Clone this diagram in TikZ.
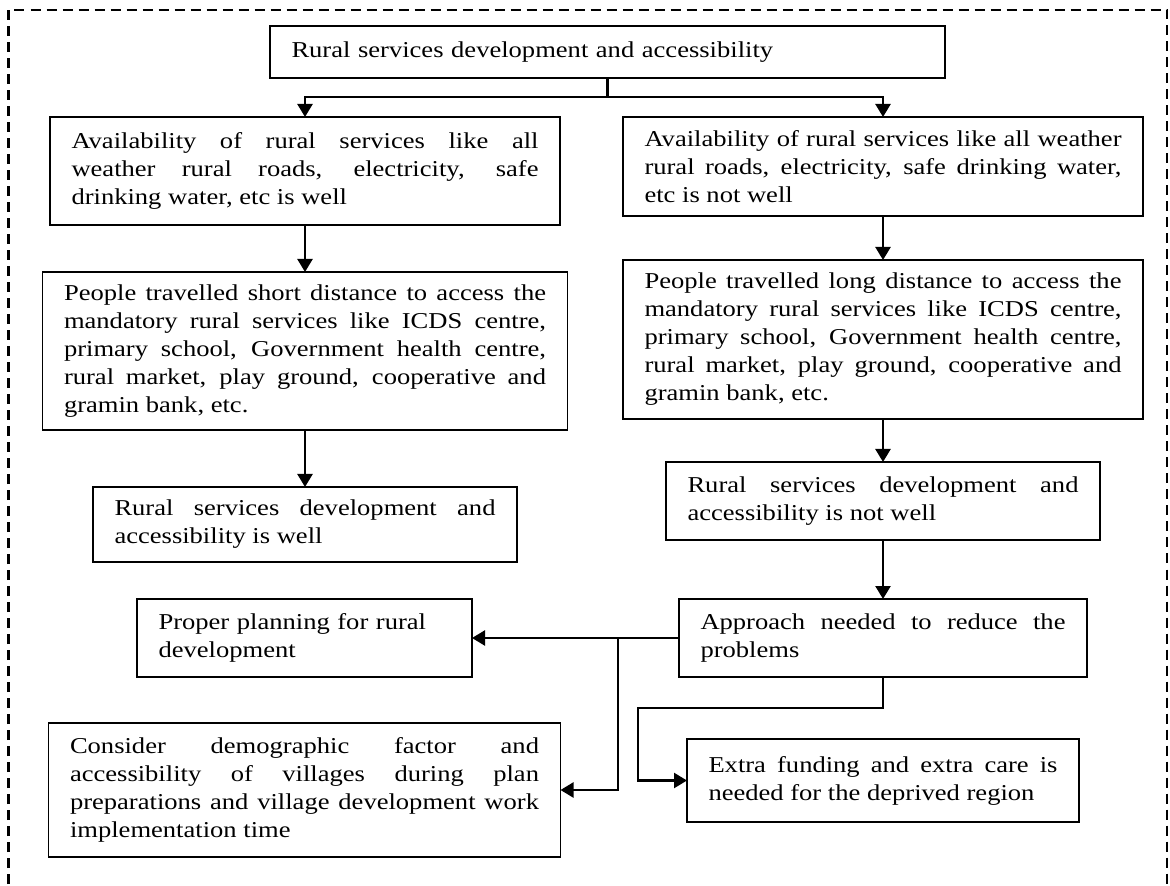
\documentclass[tikz,border=0pt]{standalone}
\usepackage{fontspec}
\setmainfont{Liberation Serif}[FakeStretch=1.17]
\usetikzlibrary{arrows.meta,positioning}

\begin{document}
\begin{tikzpicture}
    [x=1pt, y=1pt,
    node distance=20pt,
    block/.style = {draw, line width=0.9pt, inner xsep=10.75pt, inner ysep=3pt, outer sep=0pt, align=justify,
      font=\fontsize{11.35}{14}\selectfont},
    post/.style={-{Triangle[length=6.5pt,width=7.5pt]}, line width=1.2pt},
    pre/.style={{Triangle[length=6.5pt,width=7.5pt]}-, line width=1.2pt}]

    \useasboundingbox (0,0) rectangle (585,-443);
    % open frame round the chart
    \draw [dash pattern=on 5pt off 3pt, line width=1.2pt] (4.25,-450) -- (4.25,-5) -- (583.5,-5) -- (583.5,-450);

    \node [block, align=left, text width=316pt, minimum height=26pt] (Access) at (303.75,-26)
      {Rural services development and accessibility};
    \coordinate [below=9.5pt of Access] (Fork);

    % left column
    \node [block, text width=233.5pt, minimum height=54pt] (Available) [below=19.5pt of Access, xshift=-151.25pt]
      {Availability of rural services like all\linebreak weather rural roads, electricity, safe\linebreak drinking water, etc is well};
    \node [block, text width=241pt, minimum height=79pt] (Short) [below=23.5pt of Available]
      {People travelled short distance to access the\linebreak mandatory rural services like ICDS centre,\linebreak
       primary school, Government health centre,\linebreak rural market, play ground, cooperative and\linebreak gramin bank, etc.}
    edge [pre] (Available);
    \node [block, text width=190.5pt, minimum height=37.5pt] (Well) [below=28.5pt of Short]
      {Rural services development and\linebreak accessibility is well}
    edge [pre] (Short);

    % right column
    \node [block, text width=238.5pt, minimum height=49.5pt] (Unavailable) [below=19.5pt of Access, xshift=137.75pt]
      {Availability of rural services like all weather\linebreak rural roads, electricity, safe drinking water,\linebreak etc is not well};
    \node [block, text width=238.5pt, minimum height=79.5pt] (Long) [below=22pt of Unavailable]
      {People travelled long distance to access the\linebreak mandatory rural services like ICDS centre,\linebreak
       primary school, Government health centre,\linebreak rural market, play ground, cooperative and\linebreak gramin bank, etc.}
    edge [pre] (Unavailable);
    \node [block, text width=195.5pt, minimum height=39pt] (NotWell) [below=21.5pt of Long]
      {Rural services development and\linebreak accessibility is not well}
    edge [pre] (Long);
    \node [block, text width=182.5pt, minimum height=39pt] (Approach) [below=29.5pt of NotWell]
      {Approach needed to reduce the\linebreak problems}
    edge [pre] (NotWell);
    \node [block, text width=174.5pt, minimum height=41.5pt] (Funding) [below=31pt of Approach]
      {Extra funding and extra care is\linebreak needed for the deprived region};

    % what the approach leads to
    \node [block, align=left, text width=146pt, minimum height=39pt] (Planning) [left=103.5pt of Approach]
      {Proper planning for rural\\ development};
    \node [block, text width=234.5pt, minimum height=67pt] (Demographic) [below=23pt of Planning]
      {Consider demographic factor and\linebreak accessibility of villages during plan\linebreak
       preparations and village development work\linebreak implementation time};

    \draw [post] (Access) -- (Fork) -| (Available);
    \draw [post] (Fork) -| (Unavailable);

    \coordinate [left=30.5pt of Approach] (Branch);
    \coordinate [below=15.5pt of Approach] (Drop);
    \coordinate [left=24.5pt of Funding] (Turn);
    \draw [post] (Approach) -- (Planning);
    \draw [post] (Branch) |- (Demographic);
    \draw [post] (Approach) -- (Drop) -| (Turn) -- (Funding);
\end{tikzpicture}
\end{document}
